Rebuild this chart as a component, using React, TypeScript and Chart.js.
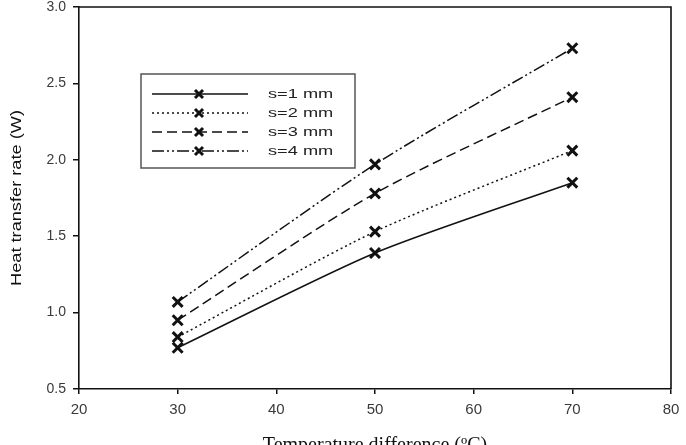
import { useEffect, useRef } from "react";
import { Chart, registerables } from "chart.js";

Chart.register(...registerables);

const temperatureDiff = [30, 50, 70];
const s1Values = [0.77, 1.39, 1.85];
const s2Values = [0.84, 1.53, 2.06];
const s3Values = [0.95, 1.78, 2.41];
const s4Values = [1.07, 1.97, 2.73];
const seriesLabels = ["s=1 mm", "s=2 mm", "s=3 mm", "s=4 mm"];
const seriesValues = [s1Values, s2Values, s3Values, s4Values];
const seriesDashes: number[][] = [[], [2, 3], [10, 5], [12, 3, 2, 3, 2, 3]];
const xTitle = "Temperature difference (ºC)";
const yTitle = "Heat transfer rate (W)";

const SHIFT = 3;

function drawCross(ctx: CanvasRenderingContext2D, x: number, y: number, r: number) {
  ctx.save();
  ctx.setLineDash([]);
  ctx.lineWidth = 3;
  ctx.strokeStyle = "#111";
  ctx.beginPath();
  ctx.moveTo(x - r, y - r);
  ctx.lineTo(x + r, y + r);
  ctx.moveTo(x + r, y - r);
  ctx.lineTo(x - r, y + r);
  ctx.stroke();
  ctx.restore();
}

const decorPlugin = {
  id: "decor",
  afterDraw(chart: any) {
    const ctx: CanvasRenderingContext2D = chart.ctx;
    const a = chart.chartArea;
    ctx.save();
    ctx.strokeStyle = "#111";
    ctx.lineWidth = 1.6;
    ctx.beginPath();
    ctx.moveTo(a.left, a.top);
    ctx.lineTo(a.right, a.top);
    ctx.lineTo(a.right, a.bottom);
    ctx.stroke();

    // legend box
    const bx = 141, by = 74 + SHIFT, bw = 214, bh = 94;
    ctx.strokeStyle = "#555";
    ctx.lineWidth = 1.5;
    ctx.strokeRect(bx, by, bw, bh);
    chart.data.datasets.forEach((ds: any, i: number) => {
      const y = 94 + SHIFT + i * 19;
      ctx.save();
      ctx.strokeStyle = "#111";
      ctx.lineWidth = 1.5;
      ctx.setLineDash(ds.borderDash || []);
      ctx.beginPath();
      ctx.moveTo(152, y);
      ctx.lineTo(248, y);
      ctx.stroke();
      ctx.restore();
      drawCross(ctx, 199, y, 4);
      ctx.save();
      ctx.fillStyle = "#222";
      ctx.font = "13px 'Liberation Sans', Arial, sans-serif";
      ctx.textBaseline = "middle";
      ctx.textAlign = "left";
      ctx.translate(268, y);
      ctx.scale(1.4, 1);
      ctx.fillText(ds.label, 0, 0);
      ctx.restore();
    });

    // y title
    ctx.save();
    ctx.fillStyle = "#111";
    ctx.font = "14px 'Liberation Sans', Arial, sans-serif";
    ctx.textAlign = "center";
    ctx.textBaseline = "middle";
    ctx.translate(17, 198 + SHIFT);
    ctx.rotate(-Math.PI / 2);
    ctx.scale(1.3, 1);
    ctx.fillText(yTitle, 0, 0);
    ctx.restore();

    // x title
    ctx.save();
    ctx.fillStyle = "#111";
    ctx.font = "20px 'Liberation Serif', 'Times New Roman', serif";
    ctx.textAlign = "center";
    ctx.textBaseline = "alphabetic";
    ctx.fillText(xTitle, (a.left + a.right) / 2, 451 + SHIFT);
    ctx.restore();
    ctx.restore();
  },
};

export default function App() {
  const ref = useRef<HTMLCanvasElement>(null);
  useEffect(() => {
    document.body.style.margin = "0";
    document.body.style.overflow = "hidden";
    const canvas = ref.current!;
    const chart = new Chart(canvas, {
      type: "line",
      data: {
        datasets: seriesValues.map((vals, i) => ({
          label: seriesLabels[i],
          data: vals.map((v, j) => ({ x: temperatureDiff[j], y: v })),
          borderColor: "#111",
          borderWidth: 1.5,
          borderDash: seriesDashes[i],
          tension: 0.25,
          pointStyle: "crossRot",
          pointRadius: 7,
          pointBorderWidth: 3,
          pointBorderColor: "#111",
          pointBackgroundColor: "#111",
          fill: false,
        })),
      },
      options: {
        responsive: false,
        animation: false,
        layout: { padding: { top: 7, right: 15, left: 0, bottom: 0 } },
        plugins: { legend: { display: false }, tooltip: { enabled: false } },
        scales: {
          x: {
            type: "linear",
            min: 20,
            max: 80,
            ticks: {
              stepSize: 10,
              color: "#3a3a3a",
              font: { size: 15, family: "'Liberation Sans', Arial, sans-serif" },
              padding: 7,
              maxRotation: 0,
            },
            grid: { drawOnChartArea: false, drawTicks: true, tickLength: 5, color: "#111", lineWidth: 1.5 },
            border: { display: true, color: "#111", width: 1.6 },
            afterFit: (s: any) => { s.height = 56; s.paddingLeft = 0; s.paddingRight = 0; },
          },
          y: {
            type: "linear",
            min: 0.5,
            max: 3.0,
            ticks: {
              stepSize: 0.5,
              color: "#3a3a3a",
              font: { size: 14, family: "'Liberation Sans', Arial, sans-serif" },
              padding: 7,
              callback: (v: any) => Number(v).toFixed(1),
            },
            grid: { drawOnChartArea: false, drawTicks: true, tickLength: 6, color: "#111", lineWidth: 1.5 },
            border: { display: true, color: "#111", width: 1.6 },
            afterFit: (s: any) => { s.width = 79; s.paddingTop = 0; s.paddingBottom = 0; },
          },
        },
      },
      plugins: [decorPlugin],
    });
    return () => chart.destroy();
  }, []);
  return (
    <canvas
      ref={ref}
      width={686}
      height={445 + SHIFT}
      style={{ display: "block", marginTop: -SHIFT }}
    />
  );
}
